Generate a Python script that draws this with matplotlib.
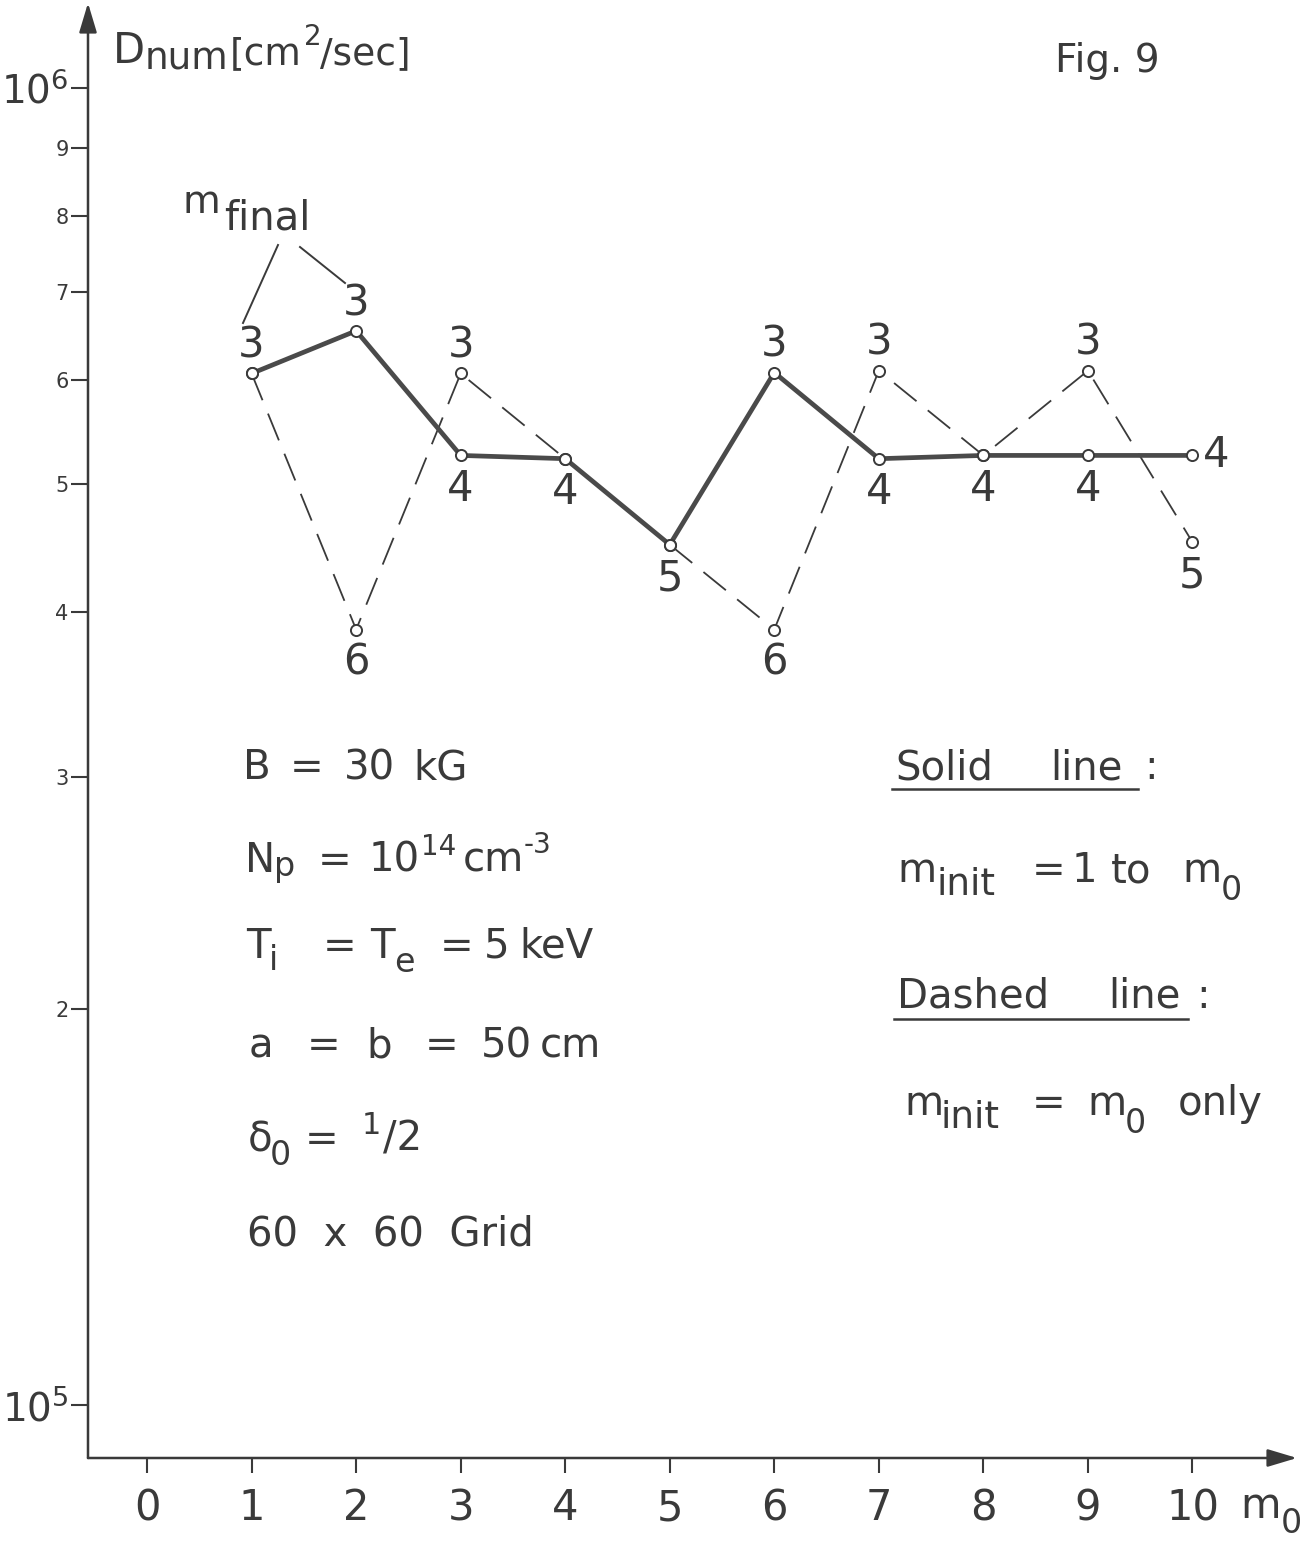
import matplotlib
matplotlib.use("Agg")
import matplotlib.pyplot as plt
from matplotlib.lines import Line2D
from matplotlib.ticker import NullLocator

W, H = 1315, 1541
INK = "#3a3a3a"
plt.rcParams["font.family"] = ["DejaVu Sans"]
plt.rcParams["mathtext.fontset"] = "dejavusans"

# ---------- data ----------
m0 = [1, 2, 3, 4, 5, 6, 7, 8, 9, 10]
d_solid = [6.07e5, 6.54e5, 5.26e5, 5.23e5, 4.50e5, 6.08e5, 5.23e5, 5.26e5, 5.26e5, 5.26e5]
d_dashed = [6.07e5, 3.88e5, 6.07e5, 5.23e5, 4.50e5, 3.88e5, 6.10e5, 5.26e5, 6.10e5, 4.52e5]
mfinal_solid = [3, 3, 4, 4, 5, 3, 4, 4, 4, 4]
mfinal_dashed = [3, 6, 3, 4, 5, 6, 3, 4, 3, 5]
side_solid = ["up", "up", "down", "down", "down", "up", "down", "down", "down", "right"]
side_dashed = ["up", "down", "up", "down", "down", "down", "up", "down", "up", "down"]

ytick_vals = [1e5, 2e5, 3e5, 4e5, 5e5, 6e5, 7e5, 8e5, 9e5, 1e6]
ytick_labels = ["10$^5$", "2", "3", "4", "5", "6", "7", "8", "9", "10$^6$"]
xtick_vals = list(range(11))

# ---------- figure / axes (log y) ----------
fig = plt.figure(figsize=(W / 100, H / 100), dpi=100)
ax = fig.add_axes([88 / W, 1 - 1458 / H, (1297 - 88) / W, (1458 - 3) / H])
ax.set_yscale("log")
ax.set_xlim(-0.565, 11.0)
ax.set_ylim(0.9117e5, 1.16e6)
for s in ax.spines.values():
    s.set_visible(False)
arrow = dict(arrowstyle="-|>,head_length=1.0,head_width=0.3", color=INK, lw=1.8,
             mutation_scale=18, shrinkA=0, shrinkB=0)
ax.annotate("", xy=(0, 1), xytext=(0, 0), xycoords="axes fraction", arrowprops=arrow)
ax.annotate("", xy=(1, 0), xytext=(0, 0), xycoords="axes fraction", arrowprops=arrow)

ax.set_yticks(ytick_vals, ytick_labels)
ax.yaxis.set_minor_locator(NullLocator())
ax.tick_params(axis="y", direction="out", length=12, width=1.5, color=INK,
               labelcolor=INK, pad=2)
for t, v in zip(ax.get_yticklabels(), ytick_vals):
    t.set_fontsize(28 if v in (1e5, 1e6) else 15)
ax.set_xticks(xtick_vals, [str(v) for v in xtick_vals])
ax.tick_params(axis="x", direction="out", length=11, width=1.5, color=INK,
               labelcolor=INK, labelsize=30, pad=10)

# ---------- curves ----------
ax.plot(m0, d_dashed, color=INK, lw=1.3, dashes=(16, 8), zorder=2)
ax.plot(m0, d_solid, color="#4a4a4a", lw=3.4, zorder=3)
ax.plot(m0, d_dashed, ls="none", marker="o", ms=8, mfc="white", mec=INK, mew=1.4, zorder=5)
ax.plot(m0, d_solid, ls="none", marker="o", ms=8, mfc="white", mec=INK, mew=1.4, zorder=5)

off = {"up": (0, 20), "down": (0, -24), "right": (17, 0)}
for x, y, lab, sd in zip(m0, d_solid, mfinal_solid, side_solid):
    ax.annotate(str(lab), (x, y), xytext=off[sd], textcoords="offset points",
                ha="center", va="center", fontsize=30, color=INK)
for x, y, ys, lab, sd in zip(m0, d_dashed, d_solid, mfinal_dashed, side_dashed):
    if abs(y - ys) > 0.02 * ys:
        ax.annotate(str(lab), (x, y), xytext=off[sd], textcoords="offset points",
                    ha="center", va="center", fontsize=30, color=INK)


# ---------- lettering (figure pixel coords, baseline-anchored) ----------
def put(x, y, s, size=29):
    fig.text(x / W, 1 - y / H, s, ha="left", va="baseline", fontsize=size, color=INK)


def seg(x0, y0, x1, y1, lw=1.4):
    fig.add_artist(Line2D([x0 / W, x1 / W], [1 - y0 / H, 1 - y1 / H], color=INK, lw=lw,
                          transform=fig.transFigure))


# y-axis title
put(113, 63, "D", 30)
put(145, 70, "num", 27)
put(230, 64, "[cm", 27)
put(304, 45, "2", 20)
put(320, 64, "/sec]", 27)
put(1055, 72, "Fig. 9", 28)

# m_final with leader lines
put(183, 213, "m", 28)
put(224, 230, "final", 29)
seg(243, 323, 278, 245)
seg(300, 247, 345, 283)

# x-axis title
put(1240, 1518, "m", 30)
put(1281, 1533, "0", 24)

# parameter block
put(243, 779, "B", 29); put(290, 779, "=", 29); put(344, 779, "30", 29); put(413, 779, "kG", 29)

put(245, 872, "N", 29); put(274, 876, "p", 24); put(318, 872, "=", 29)
put(369, 872, "10", 29); put(421, 855, "14", 20); put(463, 872, "cm", 29); put(524, 853, "-3", 20)

put(246, 958, "T", 29); put(269, 970, "i", 24); put(323, 958, "=", 29)
put(370, 958, "T", 29); put(394, 972, "e", 24); put(440, 958, "=", 29)
put(484, 958, "5", 29); put(519, 958, "keV", 29)

put(249, 1057, "a", 29); put(307, 1057, "=", 29); put(366, 1057, "b", 29)
put(425, 1057, "=", 29); put(481, 1057, "50", 29); put(540, 1057, "cm", 29)

put(248, 1151, "δ", 29); put(270, 1165, "0", 24); put(305, 1151, "=", 29)
put(362, 1134, "1", 22); put(383, 1151, "/2", 29)

put(247, 1246, "60  x  60  Grid", 29)

# line-style key
put(895, 779, "Solid", 29); put(1050, 779, "line", 29); put(1144, 779, ":", 29)
seg(892, 789, 1138, 789, 1.8)
put(897, 882, "m", 29); put(937, 895, "init", 27); put(1032, 882, "=", 29)
put(1072, 882, "1", 29); put(1111, 882, "to", 29); put(1182, 882, "m", 29)
put(1221, 900, "0", 24)

put(897, 1008, "Dashed", 29); put(1108, 1008, "line", 29); put(1196, 1008, ":", 29)
seg(894, 1019, 1188, 1019, 1.8)
put(904, 1115, "m", 29); put(941, 1128, "init", 27); put(1032, 1115, "=", 29)
put(1087, 1115, "m", 29); put(1125, 1133, "0", 24); put(1178, 1115, "only", 29)

fig.savefig("out.png", dpi=100)
